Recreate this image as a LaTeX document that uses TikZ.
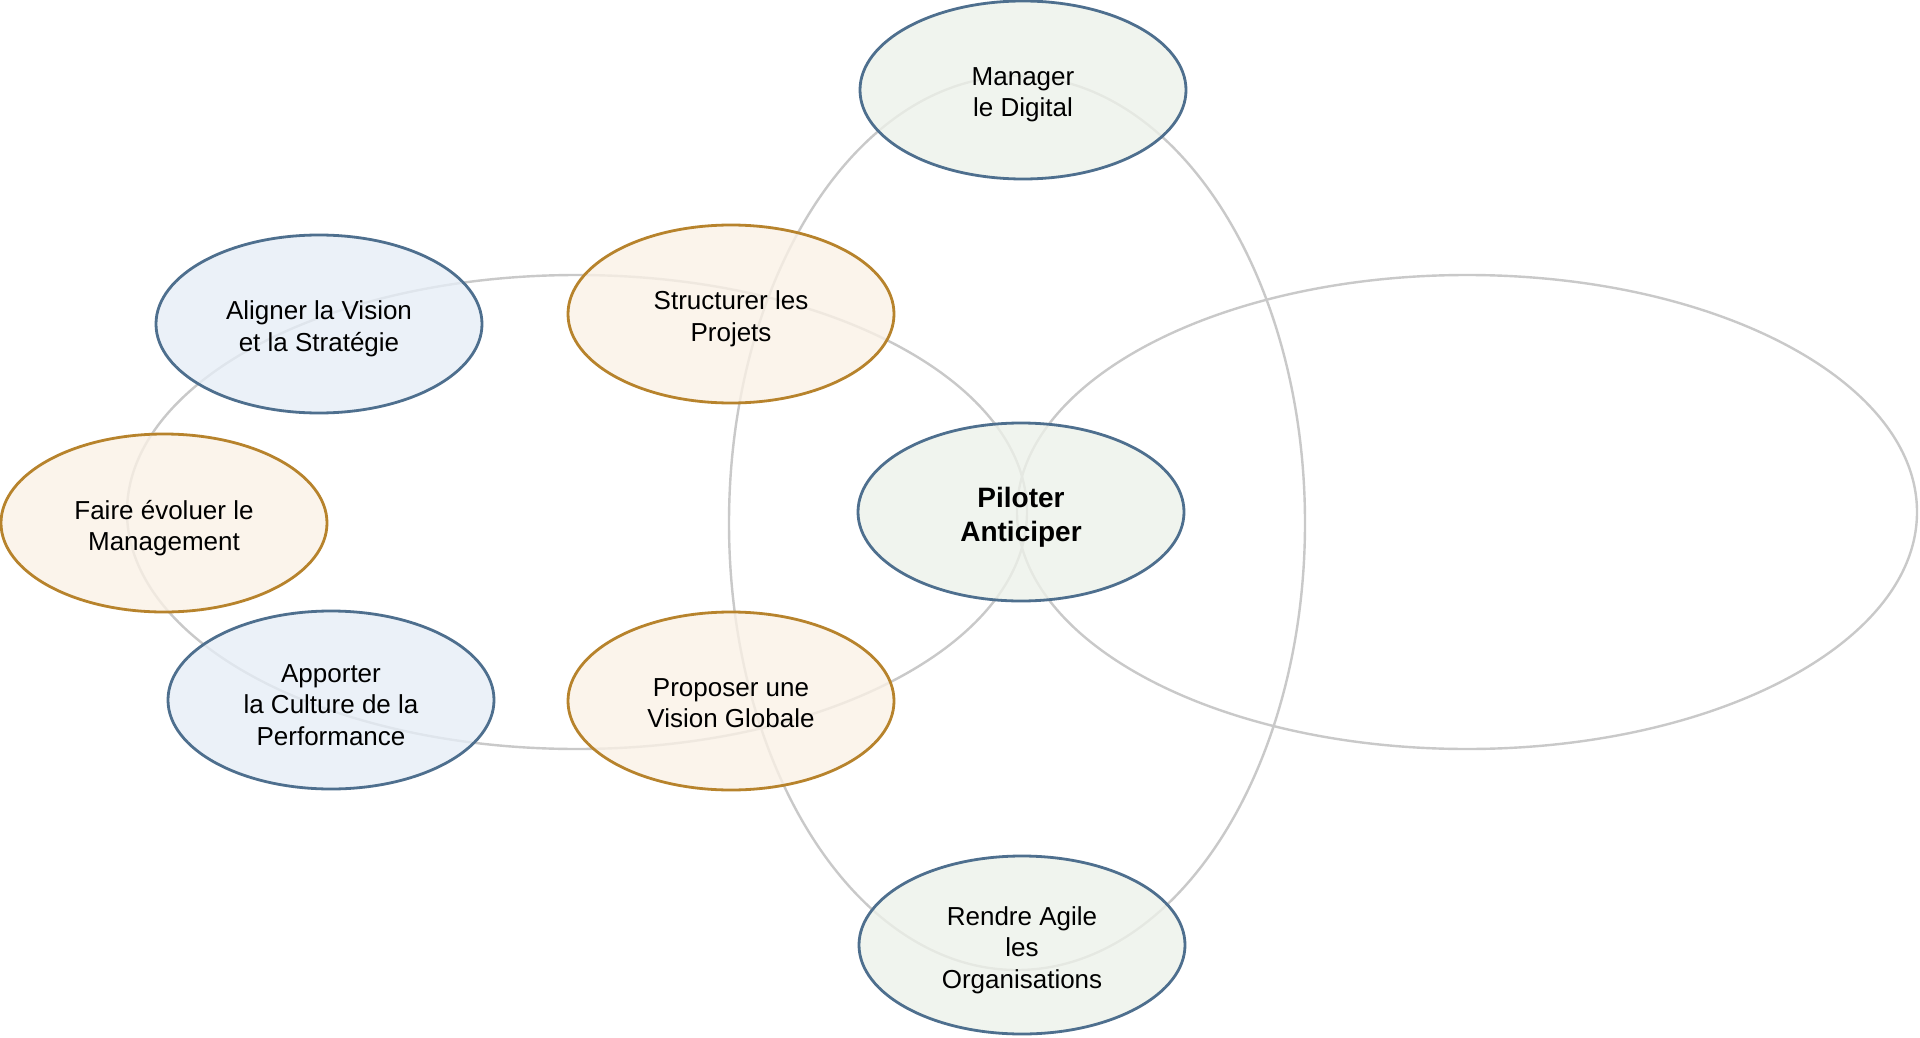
\documentclass[tikz,border=0pt]{standalone}
\usepackage{fontspec}
\setmainfont{Liberation Sans}
\usetikzlibrary{shapes.geometric}
\definecolor{ringgray}{HTML}{C9C9C9}
\definecolor{slateedge}{HTML}{4E6F8E}
\definecolor{bluefill}{HTML}{E6EEF7}
\definecolor{greenfill}{HTML}{EDF2EA}
\definecolor{orangeedge}{HTML}{B7832C}
\definecolor{orangefill}{HTML}{FAF1E6}
\tikzset{
  ring/.style={draw=ringgray, line width=2.4pt},
  bubble/.style={ellipse, minimum width=326pt, minimum height=178pt, inner sep=0pt,
    line width=2.8pt, fill opacity=0.78},
  bluebubble/.style={bubble, draw=slateedge, fill=bluefill},
  greenbubble/.style={bubble, draw=slateedge, fill=greenfill},
  orangebubble/.style={bubble, draw=orangeedge, fill=orangefill},
  bubbletext/.style={inner sep=0pt, align=center, yshift=-5pt,
    font=\fontsize{26}{31.5}\selectfont},
  boldtext/.style={bubbletext, font=\fontsize{28}{34}\selectfont\bfseries},
}
\begin{document}
\begin{tikzpicture}[x=1pt, y=-1pt]
\useasboundingbox[fill=white] (0,0) rectangle (1920,1038);
% background rings
\coordinate (cleft) at (577,512);
\coordinate (cright) at (1467,512);
\coordinate (cvert) at (1017,523);
\draw[ring] (cleft) ellipse [x radius=450pt, y radius=237pt];
\draw[ring] (cright) ellipse [x radius=450pt, y radius=237pt];
\draw[ring] (cvert) ellipse [x radius=288pt, y radius=447pt];
% bubbles
\node[greenbubble] (manager) at (1023,90) {};
\node[greenbubble] (piloter) at (1021,512) {};
\node[greenbubble] (rendre) at (1022,945) {};
\node[bluebubble] (aligner) at (319,324) {};
\node[orangebubble] (faire) at (164,523) {};
\node[bluebubble] (apporter) at (331,700) {};
\node[orangebubble] (structurer) at (731,314) {};
\node[orangebubble] (proposer) at (731,701) {};
% texts
\node[bubbletext] (manager-t) at (manager.center) {Manager\\le Digital};
\node[boldtext] (piloter-t) at (piloter.center) {Piloter\\Anticiper};
\node[bubbletext] (rendre-t) at (rendre.center) {Rendre Agile\\les\\Organisations};
\node[bubbletext] (aligner-t) at (aligner.center) {Aligner la Vision\\et la Stratégie};
\node[bubbletext] (faire-t) at (faire.center) {Faire évoluer le\\Management};
\node[bubbletext] (apporter-t) at (apporter.center) {Apporter\\la Culture de la\\Performance};
\node[bubbletext] (structurer-t) at (structurer.center) {Structurer les\\Projets};
\node[bubbletext, yshift=3pt] (proposer-t) at (proposer.center) {Proposer une\\Vision Globale};
\end{tikzpicture}
\end{document}
